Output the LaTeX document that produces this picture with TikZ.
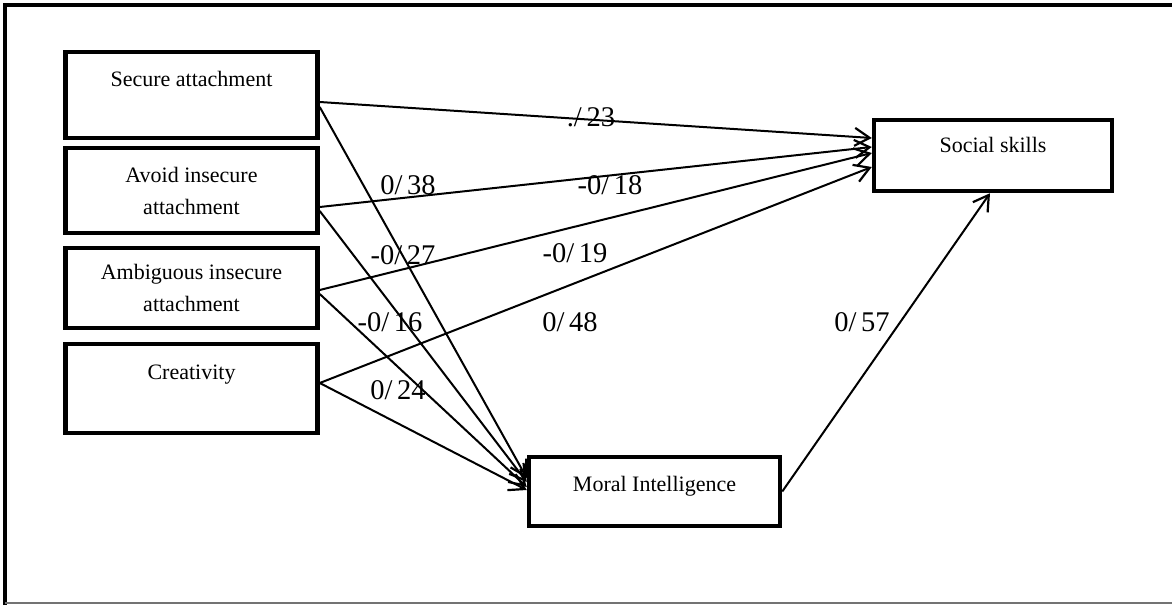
\documentclass[tikz,border=0pt]{standalone}
\usepackage{fontspec}
\setmainfont{Liberation Serif}
\usetikzlibrary{arrows.meta}

\begin{document}
\begin{tikzpicture}[x=1pt, y=-1pt]
		\tikzstyle{varbox} = [draw, line width=4.5pt, minimum width=252pt, inner sep=0pt, align=center, font=\fontsize{22}{32}\selectfont]
		\tikzstyle{coef} = [inner sep=0pt, font=\fontsize{28.5}{30}\selectfont]
		\tikzstyle{effect} = [line width=2pt, -{Straight Barb[length=15pt, width=18pt, line width=2.2pt]}]
		\useasboundingbox (0,0) rectangle (1172,605);
		% frame
		\draw[line width=4.5pt] (5,605) -- (5,5) -- (1172,5);
		\draw[line width=1.5pt, black!55] (5,603) -- (1172,603);
		% predictors
		\foreach \name/\y/\h/\txt in {secure/95/86/{Secure attachment\\ \mbox{}}, avoid/190.5/85/{Avoid insecure\\attachment}, ambiguous/288/80/{Ambiguous insecure\\attachment}, creativity/388.5/89/{Creativity\\ \mbox{}}}
		{
			\node[varbox, minimum height=\h pt] (\name) at (191.5,\y) {\txt};
		}
		\node[varbox, minimum width=251pt, minimum height=69pt, text depth=15pt] (moral) at (654.5,491.5) {Moral Intelligence};
		\node[varbox, minimum width=238pt, minimum height=71pt, text depth=21pt] (social) at (993,155.5) {Social skills};
		% coefficients
		\foreach \lbl/\x/\y/\val in {c23/591/117/{./\,23}, c38/408/185/{0/\,38}, c18/610/185/{-0/\,18}, c27/403/255/{-0/\,27}, c19/575/253/{-0/\,19}, c16/390/322/{-0/\,16}, c48/570/322/{0/\,48}, c24/398/390/{0/\,24}, c57/862/322/{0/\,57}}
		{
			\node[coef] (\lbl) at (\x,\y) {\val};
		}
		% paths
		\foreach \src/\a/\b in {secure/-7/17.5, avoid/-16.5/8.5, ambiguous/-2/2.5, creativity/5.5/-11.5}
		{
			\draw[effect] ([yshift=\a pt]\src.east) -- ([yshift=\b pt]social.west);
		}
		\foreach \src/\a/\b in {secure/-12/13.5, avoid/-20.5/9.5, ambiguous/-6/4.5, creativity/5.5/1.5}
		{
			\draw[effect] ([yshift=\a pt]\src.east) -- ([yshift=\b pt]moral.west);
		}
		\draw[effect] (moral.east) -- ([xshift=-3pt]social.south);
\end{tikzpicture}
\end{document}
